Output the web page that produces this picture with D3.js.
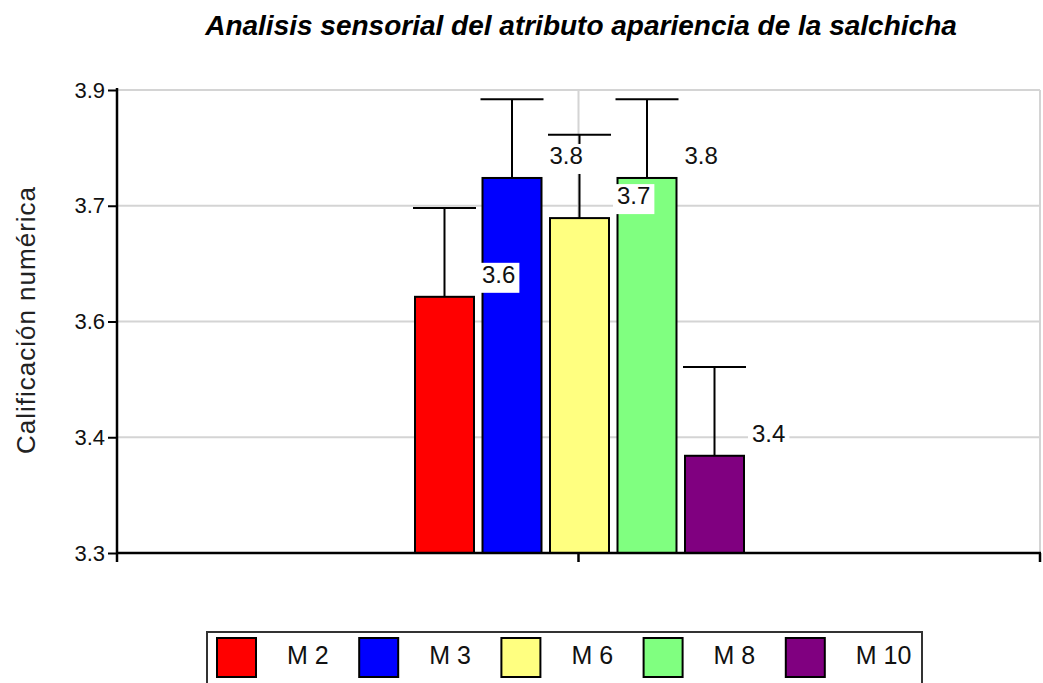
<!DOCTYPE html>
<html>
<head>
<meta charset="utf-8">
<title>Analisis sensorial</title>
<script src="https://d3js.org/d3.v7.min.js"></script>
<style>
  body { margin: 0; background: white; }
  text { font-family: "Liberation Sans", Arial, sans-serif; }
</style>
</head>
<body>
<div id="chart"></div>
<script>
// data
var categories = [""];
var series = ["M 2", "M 3", "M 6", "M 8", "M 10"];
var values = [3.632, 3.786, 3.734, 3.786, 3.426];
var errors = [0.115, 0.102, 0.108, 0.102, 0.115];
var colors = ["#ff0000", "#0000ff", "#ffff80", "#80ff80", "#800080"];
var yTicks = [3.3, 3.45, 3.6, 3.75, 3.9];
var yTickLabels = ["3.3", "3.4", "3.6", "3.7", "3.9"];

var width = 1043, height = 683;
var margin = {left: 117, right: 3, top: 90, bottom: 130};

var svg = d3.select("#chart").append("svg")
  .attr("width", width)
  .attr("height", height);

var x = d3.scaleBand()
  .domain(categories)
  .range([margin.left, width - margin.right]);

var xCenter = x(categories[0]) + x.bandwidth() / 2;

var xs = d3.scaleBand()
  .domain(series)
  .range([xCenter - 163.5, xCenter + 165.5])
  .paddingInner(0.126);

var y = d3.scaleLinear()
  .domain([3.3, 3.9])
  .range([height - margin.bottom, margin.top]);

// grid lines
svg.append("g").selectAll("line.h")
  .data(yTicks.slice(1))
  .join("line")
  .attr("x1", margin.left)
  .attr("x2", width - margin.right)
  .attr("y1", d => y(d))
  .attr("y2", d => y(d))
  .style("stroke", "#d4d4d4")
  .style("stroke-width", 2);

svg.append("g").selectAll("line.v")
  .data([xCenter, width - margin.right])
  .join("line")
  .attr("x1", d => d)
  .attr("x2", d => d)
  .attr("y1", y(3.9))
  .attr("y2", y(3.3))
  .style("stroke", "#d4d4d4")
  .style("stroke-width", 2);

// bars
svg.append("g").selectAll("rect")
  .data(series)
  .join("rect")
  .attr("x", d => xs(d))
  .attr("y", (d, i) => y(values[i]))
  .attr("width", xs.bandwidth())
  .attr("height", (d, i) => y(3.3) - y(values[i]))
  .style("fill", (d, i) => colors[i])
  .style("stroke", "black")
  .style("stroke-width", 2);

// error bars
var capW = xs.bandwidth() + 4;
var eb = svg.append("g").selectAll("g")
  .data(series)
  .join("g");
eb.append("line")
  .attr("x1", d => xs(d) + xs.bandwidth() / 2)
  .attr("x2", d => xs(d) + xs.bandwidth() / 2)
  .attr("y1", (d, i) => y(values[i]))
  .attr("y2", (d, i) => y(values[i] + errors[i]))
  .style("stroke", "black")
  .style("stroke-width", 2);
eb.append("line")
  .attr("x1", d => xs(d) + xs.bandwidth() / 2 - capW / 2)
  .attr("x2", d => xs(d) + xs.bandwidth() / 2 + capW / 2)
  .attr("y1", (d, i) => y(values[i] + errors[i]))
  .attr("y2", (d, i) => y(values[i] + errors[i]))
  .style("stroke", "black")
  .style("stroke-width", 2);

// value labels with white boxes
var fmt = d3.format(".1f");
var lab = svg.append("g").selectAll("g")
  .data(series)
  .join("g");
lab.append("text")
  .attr("x", d => xs(d) + xs.bandwidth() + 8)
  .attr("y", (d, i) => y(values[i]) - 14)
  .style("font-size", "24px")
  .style("fill", "#111")
  .text((d, i) => fmt(values[i]));
lab.each(function() {
  var g = d3.select(this);
  var b = g.select("text").node().getBBox();
  g.insert("rect", "text")
    .attr("x", b.x - 4)
    .attr("y", b.y + 2)
    .attr("width", b.width + 8)
    .attr("height", b.height + 3)
    .style("fill", "white");
});

// axes
var yAxis = d3.axisLeft(y)
  .tickValues(yTicks)
  .tickFormat((d, i) => yTickLabels[i])
  .tickSize(9)
  .tickPadding(3);
var gy = svg.append("g")
  .attr("transform", "translate(" + margin.left + ",0)")
  .call(yAxis);
gy.select(".domain").attr("d", "M0," + (y(3.9) - 2) + "V" + (y(3.3) + 1));
gy.selectAll("line").style("stroke-width", 2);
gy.selectAll("text").style("font-size", "22px").style("fill", "#111");
gy.selectAll("path, line").style("stroke", "black");
gy.select(".domain").style("stroke-width", 2.5);

var gx = svg.append("g").attr("transform", "translate(0," + y(3.3) + ")");
gx.append("line")
  .attr("x1", margin.left - 1)
  .attr("x2", width - margin.right + 1)
  .style("stroke", "black")
  .style("stroke-width", 2.5);
gx.selectAll("line.tick")
  .data([margin.left, xCenter, width - margin.right])
  .join("line")
  .attr("class", "tick")
  .attr("x1", d => d)
  .attr("x2", d => d)
  .attr("y1", 0)
  .attr("y2", 9)
  .style("stroke", "black")
  .style("stroke-width", 2.5);

// title
svg.append("text")
  .attr("x", 581)
  .attr("y", 35)
  .attr("text-anchor", "middle")
  .style("font-size", "28px")
  .style("font-weight", "bold")
  .style("font-style", "italic")
  .text("Analisis sensorial del atributo apariencia de la salchicha");

svg.append("text")
  .attr("transform", "translate(35,320) rotate(-90)")
  .attr("text-anchor", "middle")
  .style("font-size", "26px")
  .style("fill", "#222")
  .style("letter-spacing", "1px")
  .text("Calificación numérica");

// legend
var leg = svg.append("g");
leg.append("rect")
  .attr("x", 207)
  .attr("y", 632)
  .attr("width", 715)
  .attr("height", 70)
  .style("fill", "white")
  .style("stroke", "#333")
  .style("stroke-width", 2);
var li = leg.selectAll("g")
  .data(series)
  .join("g")
  .attr("transform", (d, i) => "translate(" + (217 + i * 142.2) + ",638)");
li.append("rect")
  .attr("width", 39)
  .attr("height", 39)
  .style("fill", (d, i) => colors[i])
  .style("stroke", "black")
  .style("stroke-width", 2);
li.append("text")
  .attr("x", 70)
  .attr("y", 26)
  .style("font-size", "25px")
  .style("fill", "#111")
  .text(d => d);
</script>
</body>
</html>
